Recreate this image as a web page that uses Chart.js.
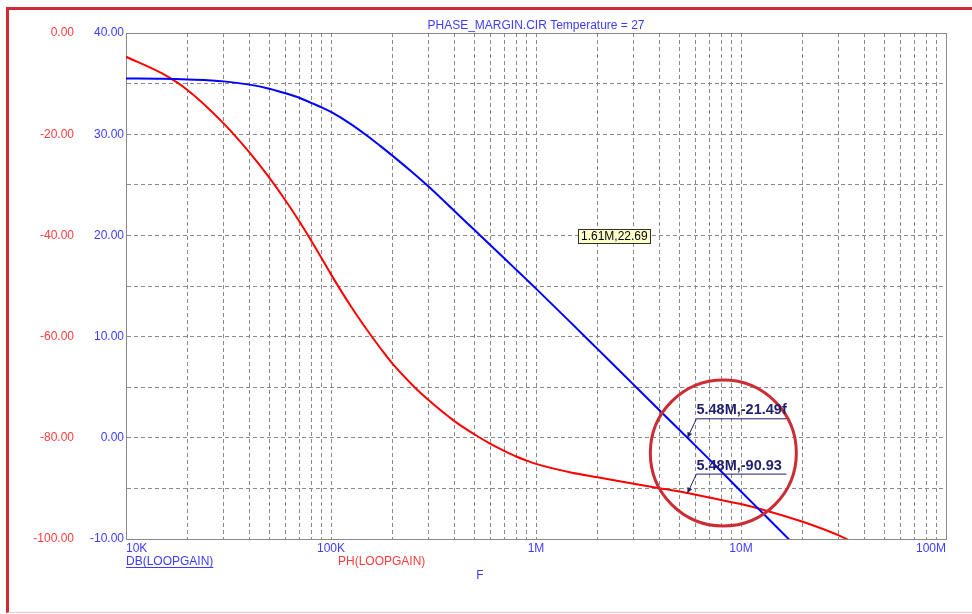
<!DOCTYPE html>
<html>
<head>
<meta charset="utf-8">
<title>PHASE_MARGIN.CIR</title>
<style>
  html, body { margin: 0; padding: 0; background: #ffffff; }
  #wrap { position: relative; width: 972px; height: 614px; overflow: hidden; }
  #frame {
    position: absolute; left: 6px; top: 7px; width: 990px; height: 602px;
    border-left: 3px solid #cf2b33; border-top: 3px solid #cf2b33; border-bottom: 1px solid #f3c4c4;
  }
  #plot { position: absolute; left: 0; top: 0; }
</style>
<script src="https://cdn.jsdelivr.net/npm/chart.js@4/dist/chart.umd.min.js"></script>
</head>
<body>
<div id="wrap">
  <div id="frame"></div>
  <canvas id="plot" width="972" height="614"></canvas>
</div>
<script>
// Sweep frequencies (Hz)
const freqHz = [1e4, 1.5e4, 2e4, 3e4, 4e4, 5e4, 6e4, 7e4, 8e4, 9e4,
                1e5, 1.25e5, 1.5e5, 1.75e5, 2e5, 2.5e5, 3e5, 4e5, 5e5, 6e5, 7e5, 8e5, 9e5,
                1e6, 1.5e6, 2e6, 3e6, 4e6, 5e6, 5.48e6, 7e6,
                1e7, 1.33e7, 2e7, 3e7, 4e7];

// DB(LOOPGAIN), dB
const dbLoopGain = [35.5, 35.47, 35.4, 35.22, 34.9, 34.5, 34.05, 33.6, 33.1, 32.65,
                    32.2, 31.0, 29.85, 28.8, 27.86, 26.21, 24.8, 22.41, 20.55, 19.03, 17.74, 16.62, 15.63,
                    14.74, 11.26, 8.76, 5.23, 2.73, 0.8, -21.49e-15, -2.13,
                    -5.3, -7.8, -11.4, -15.0, -17.6];

// PH(LOOPGAIN), degrees
const phLoopGain = [-4.7, -8.0, -11.3, -17.9, -23.6, -28.6, -33.1, -37.2, -41.0, -44.5,
                    -47.7, -54.0, -58.7, -62.4, -65.4, -69.6, -72.6, -76.7, -79.3, -81.2, -82.6, -83.7, -84.5,
                    -85.15, -86.9, -87.8, -89.1, -89.95, -90.62, -90.93, -91.8,
                    -93.1, -94.4, -96.6, -99.3, -101.8];

// Axis labelling
const freqDecades = [1e4, 1e5, 1e6, 1e7, 1e8];
const freqLabels = ['10K', '100K', '1M', '10M', '100M'];
const gainRange = [-10, 40];
const phaseRange = [-100, 0];

// Cursor readouts
const cursorFreq = 5.48e6;
const cursorGain = -21.49e-15;
const cursorPhase = -90.93;
const noteFreq = 1.61e6;
const noteValue = 22.69;

const BLUE_TXT = '#3c3cff';
const RED_TXT = '#ff3c3c';
const NAVY = '#1f1f6e';
const FONT = '"Liberation Sans", Arial, sans-serif';

// Engineering-suffix formatter used by the cursor tags
function fmtSI(v) {
  if (v === 0) return '0.00';
  const prefixes = [[1e9, 'G'], [1e6, 'M'], [1e3, 'K'], [1, ''], [1e-3, 'm'], [1e-6, 'u'], [1e-9, 'n'], [1e-12, 'p'], [1e-15, 'f']];
  const a = Math.abs(v);
  for (const [s, p] of prefixes) {
    if (a >= s) return (v / s).toFixed(2) + p;
  }
  return (v / 1e-15).toFixed(2) + 'f';
}

function drawTag(ctx, tipX, tipY, text) {
  const ux = tipX + 9, uy = tipY - 19;
  ctx.save();
  ctx.strokeStyle = NAVY; ctx.fillStyle = NAVY; ctx.lineWidth = 1;
  ctx.beginPath();
  ctx.moveTo(tipX, tipY); ctx.lineTo(ux, uy); ctx.lineTo(ux + 90, uy);
  ctx.stroke();
  const ang = Math.atan2(tipY - uy, tipX - ux);
  ctx.beginPath();
  ctx.moveTo(tipX, tipY);
  ctx.lineTo(tipX - 6 * Math.cos(ang - 0.45), tipY - 6 * Math.sin(ang - 0.45));
  ctx.lineTo(tipX - 6 * Math.cos(ang + 0.45), tipY - 6 * Math.sin(ang + 0.45));
  ctx.closePath(); ctx.fill();
  ctx.font = 'bold 14.5px ' + FONT;
  ctx.textBaseline = 'alphabetic'; ctx.textAlign = 'left';
  ctx.fillText(text, ux, uy - 4.5);
  ctx.restore();
}

const overlay = {
  id: 'overlay',
  beforeDatasetsDraw(chart) {
    const { ctx, chartArea: a } = chart;
    ctx.save();
    ctx.strokeStyle = '#8a8a8a'; ctx.lineWidth = 1;
    ctx.strokeRect(a.left + 0.5, a.top + 0.5, a.right - a.left, a.bottom - a.top);
    ctx.restore();
  },
  afterDatasetsDraw(chart) {
    const { ctx, scales } = chart;
    const xs = scales.x, yg = scales.y, yp = scales.y2;

    // highlight ring around the crossover region
    ctx.save();
    ctx.strokeStyle = '#cc2d35'; ctx.lineWidth = 3;
    ctx.beginPath();
    ctx.arc(xs.getPixelForValue(8.2e6), yg.getPixelForValue(-1.5), 73, 0, Math.PI * 2);
    ctx.stroke();
    ctx.restore();

    const cx = xs.getPixelForValue(cursorFreq);
    drawTag(ctx, cx, yg.getPixelForValue(cursorGain), fmtSI(cursorFreq) + ',' + fmtSI(cursorGain));
    drawTag(ctx, cx, yp.getPixelForValue(cursorPhase), fmtSI(cursorFreq) + ',' + fmtSI(cursorPhase));

    // text note box
    const nx = Math.round(xs.getPixelForValue(noteFreq));
    const ny = Math.round(yg.getPixelForValue(20.6));
    const txt = fmtSI(noteFreq) + ',' + noteValue.toFixed(2);
    ctx.save();
    ctx.font = '12px ' + FONT;
    const w = Math.ceil(ctx.measureText(txt).width) + 5;
    ctx.fillStyle = '#ffffcc';
    ctx.fillRect(nx, ny, w, 14);
    ctx.strokeStyle = '#303030'; ctx.lineWidth = 1;
    ctx.strokeRect(nx + 0.5, ny + 0.5, w, 14);
    ctx.fillStyle = '#000000';
    ctx.textBaseline = 'middle'; ctx.textAlign = 'left';
    ctx.fillText(txt, nx + 3, ny + 7.5);
    ctx.restore();
  },
  afterDraw(chart) {
    const { ctx, chartArea: a } = chart;
    ctx.save();
    ctx.font = '12px ' + FONT;
    ctx.textBaseline = 'middle'; ctx.textAlign = 'left';
    ctx.fillStyle = BLUE_TXT;
    ctx.fillText('DB(LOOPGAIN)', a.left, 561.5);
    const w = ctx.measureText('DB(LOOPGAIN)').width;
    ctx.fillRect(a.left, 567, w, 1);
    ctx.fillStyle = RED_TXT;
    ctx.fillText('PH(LOOPGAIN)', a.left + 212, 561.5);
    ctx.fillStyle = BLUE_TXT;
    ctx.textAlign = 'center';
    ctx.fillText('F', a.left + 354, 576);
    ctx.restore();
  }
};

const pts = (vals) => freqHz.map((f, i) => ({ x: f, y: vals[i] }));

new Chart(document.getElementById('plot'), {
  type: 'line',
  data: {
    datasets: [
      { label: 'DB(LOOPGAIN)', data: pts(dbLoopGain), yAxisID: 'y',
        borderColor: '#0000ff', borderWidth: 2, pointRadius: 0, fill: false,
        cubicInterpolationMode: 'monotone' },
      { label: 'PH(LOOPGAIN)', data: pts(phLoopGain), yAxisID: 'y2',
        borderColor: '#ff0000', borderWidth: 2, pointRadius: 0, fill: false,
        cubicInterpolationMode: 'monotone' }
    ]
  },
  options: {
    responsive: false,
    animation: false,
    events: [],
    layout: { padding: { left: 10, right: 26, top: 0, bottom: 0 } },
    plugins: {
      legend: { display: false },
      tooltip: { enabled: false },
      title: {
        display: true, fullSize: false,
        text: 'PHASE_MARGIN.CIR Temperature = 27',
        color: BLUE_TXT,
        font: { family: FONT, size: 12, weight: 'normal', lineHeight: 1 },
        padding: { top: 20, bottom: 1 }
      }
    },
    scales: {
      x: {
        type: 'logarithmic', min: 1e4, max: 1e8,
        afterBuildTicks: (s) => {
          const t = [];
          for (let d = 1e4; d < 1e8; d *= 10) for (let m = 1; m < 10; m++) t.push({ value: m * d });
          t.push({ value: 1e8 });
          s.ticks = t;
        },
        afterFit: (s) => { s.height = 75; },
        ticks: {
          autoSkip: false, maxRotation: 0, minRotation: 0, align: 'inner', padding: 2.5,
          color: BLUE_TXT, font: { family: FONT, size: 12 },
          callback: (v) => { const i = freqDecades.indexOf(v); return i >= 0 ? freqLabels[i] : ''; }
        },
        grid: { color: '#8a8a8a', lineWidth: 1, drawTicks: false },
        border: { display: true, color: '#8a8a8a', dash: [4, 3] }
      },
      y: {
        type: 'linear', position: 'left', weight: 0,
        min: gainRange[0], max: gainRange[1],
        afterFit: (s) => { s.width = 50; },
        ticks: {
          stepSize: 5, padding: 2, color: BLUE_TXT, font: { family: FONT, size: 12 },
          callback: (v) => (v % 10 === 0 ? v.toFixed(2) : '')
        },
        grid: { color: '#8a8a8a', lineWidth: 1, drawTicks: false },
        border: { display: true, color: '#8a8a8a', dash: [4, 3] }
      },
      y2: {
        type: 'linear', position: 'left', weight: 1,
        min: phaseRange[0], max: phaseRange[1],
        afterFit: (s) => { s.width = 66; },
        ticks: {
          stepSize: 20, padding: 2, color: RED_TXT, font: { family: FONT, size: 12 },
          callback: (v) => v.toFixed(2)
        },
        grid: { display: false, drawTicks: false },
        border: { display: false }
      }
    }
  },
  plugins: [overlay]
});
</script>
</body>
</html>
